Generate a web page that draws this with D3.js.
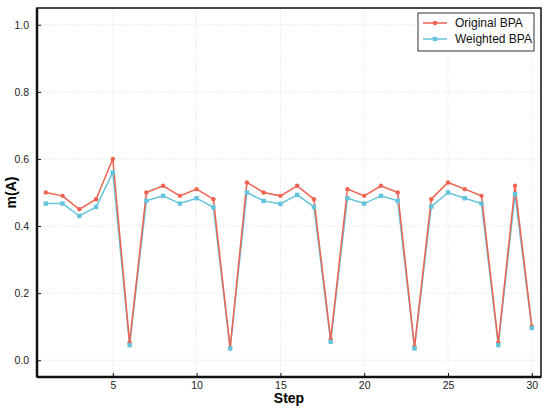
<!DOCTYPE html>
<html lang="en">
<head>
<meta charset="UTF-8">
<title>m(A) by step</title>
<script src="https://cdn.jsdelivr.net/npm/d3@7/dist/d3.min.js"></script>
<style>
    body { margin: 0; background: #fff; }
    svg { display: block; font-family: "Liberation Sans", Arial, sans-serif; }
    .tick text { font-size: 10.5px; fill: #222; }
    .grid line { stroke: #e6e6e6; stroke-dasharray: 1.5,1.5; }
    .axis-title { font-size: 14px; font-weight: bold; }
</style>
</head>
<body>
<svg width="550" height="411"></svg>
<script>
    // data
    const steps = d3.range(1, 31);
    const originalBPA = [0.50, 0.49, 0.45, 0.48, 0.60, 0.052, 0.50, 0.52, 0.49, 0.51,
        0.48, 0.037, 0.53, 0.50, 0.49, 0.52, 0.48, 0.062, 0.51, 0.49,
        0.52, 0.50, 0.04, 0.48, 0.53, 0.51, 0.49, 0.052, 0.52, 0.101];
    const weightedBPA = [0.467, 0.467, 0.43, 0.457, 0.56, 0.045, 0.475, 0.49, 0.467, 0.483,
        0.456, 0.035, 0.50, 0.475, 0.466, 0.493, 0.457, 0.055, 0.483, 0.467,
        0.49, 0.475, 0.035, 0.458, 0.50, 0.483, 0.467, 0.045, 0.495, 0.096];
    const xTicks = [5, 10, 15, 20, 25, 30];
    const yTicks = [0, 0.2, 0.4, 0.6, 0.8, 1.0];
    const seriesNames = ["Original BPA", "Weighted BPA"];

    const red = "#ef6350", blue = "#63c4dc";

    const svg = d3.select("svg");
    const margin = {top: 8, right: 9, bottom: 34, left: 37};
    const W = 550, H = 411;
    const w = W - margin.left - margin.right,
        h = H - margin.top - margin.bottom;

    const x = d3.scaleLinear().domain([0.475, 30.55]).range([0, w]);
    const y = d3.scaleLinear().domain([-0.05, 1.05]).range([h, 0]);

    const g = svg.append("g").attr("transform", `translate(${margin.left},${margin.top})`);

    // grid
    g.append("g").attr("class", "grid")
        .selectAll("line.gy").data(yTicks).enter().append("line")
        .attr("x1", 0).attr("x2", w)
        .attr("y1", d => y(d)).attr("y2", d => y(d));
    g.append("g").attr("class", "grid")
        .selectAll("line.gx").data(xTicks).enter().append("line")
        .attr("y1", 0).attr("y2", h)
        .attr("x1", d => x(d)).attr("x2", d => x(d));

    // axes, ticks pointing inward
    const xAxis = g.append("g").attr("transform", `translate(0,${h})`)
        .call(d3.axisBottom(x).tickValues(xTicks).tickSize(-4).tickPadding(5));
    const yAxis = g.append("g")
        .call(d3.axisLeft(y).tickValues(yTicks).tickFormat(d3.format(".1f")).tickSize(-4).tickPadding(8));
    [xAxis, yAxis].forEach(a => {
        a.select(".domain").remove();
        a.selectAll(".tick line").attr("stroke", "#111").attr("stroke-width", 1);
    });

    // frame
    g.append("rect").attr("width", w).attr("height", h)
        .attr("fill", "none").attr("stroke", "#111").attr("stroke-width", 1.5);
    g.append("line").attr("x1", 0).attr("x2", 0).attr("y1", 0).attr("y2", h)
        .attr("stroke", "#111").attr("stroke-width", 2.5);
    g.append("line").attr("x1", 0).attr("x2", w).attr("y1", h).attr("y2", h)
        .attr("stroke", "#111").attr("stroke-width", 2.5);

    const line = d3.line().x((d, i) => x(steps[i])).y(d => y(d));

    // weighted first so original sits on top where they overlap
    g.append("path").datum(weightedBPA).attr("d", line)
        .attr("fill", "none").attr("stroke", blue).attr("stroke-width", 1.5);
    g.append("path").datum(originalBPA).attr("d", line)
        .attr("fill", "none").attr("stroke", red).attr("stroke-width", 1.5);

    g.selectAll("circle.orig").data(originalBPA).enter().append("circle")
        .attr("cx", (d, i) => x(steps[i])).attr("cy", d => y(d))
        .attr("r", 2.2).attr("fill", red);
    g.selectAll("rect.wt").data(weightedBPA).enter().append("rect")
        .attr("x", (d, i) => x(steps[i]) - 2.2).attr("y", d => y(d) - 2.2)
        .attr("width", 4.4).attr("height", 4.4).attr("fill", blue);

    // axis titles
    svg.append("text").attr("class", "axis-title")
        .attr("x", margin.left + w / 2).attr("y", 403)
        .attr("text-anchor", "middle").text("Step");
    svg.append("text").attr("class", "axis-title")
        .attr("transform", `translate(16,${margin.top + h / 2}) rotate(-90)`)
        .attr("text-anchor", "middle").text("m(A)");

    // legend
    const lg = svg.append("g").attr("transform", "translate(418,13)");
    lg.append("rect").attr("width", 116).attr("height", 38)
        .attr("fill", "#fff").attr("stroke", "#333").attr("stroke-width", 1);
    [red, blue].forEach((c, i) => {
        const yy = 10 + i * 16;
        lg.append("line").attr("x1", 5).attr("x2", 29).attr("y1", yy).attr("y2", yy)
            .attr("stroke", c).attr("stroke-width", 1.5);
        if (i === 0) {
            lg.append("circle").attr("cx", 17).attr("cy", yy).attr("r", 2.2).attr("fill", c);
        } else {
            lg.append("rect").attr("x", 14.8).attr("y", yy - 2.2).attr("width", 4.4).attr("height", 4.4).attr("fill", c);
        }
        lg.append("text").attr("x", 37).attr("y", yy + 4.3)
            .style("font-size", "12px").attr("fill", "#111").text(seriesNames[i]);
    });
</script>
</body>
</html>
